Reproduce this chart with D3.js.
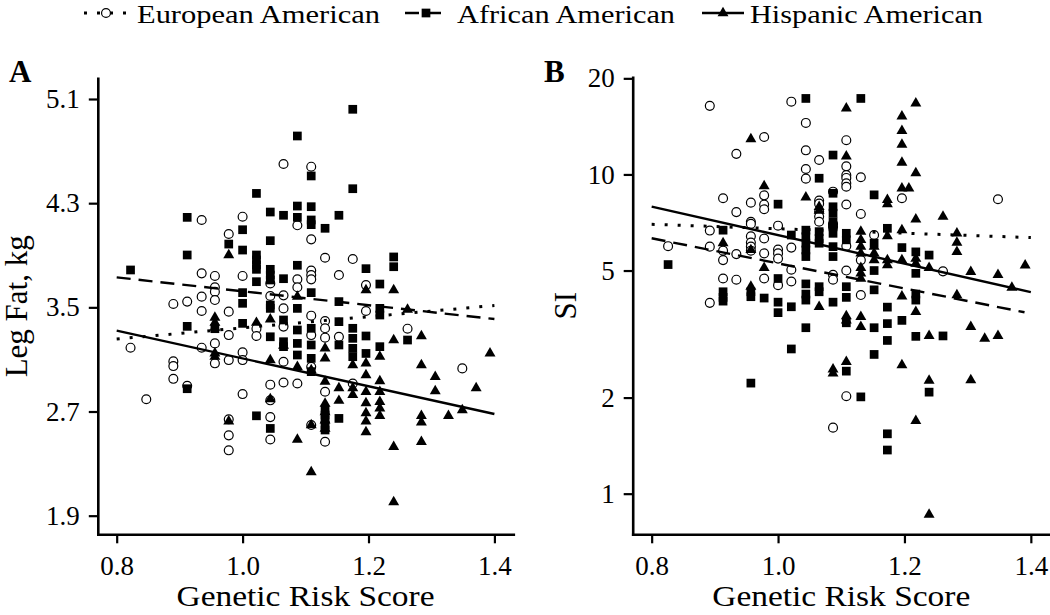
<!DOCTYPE html>
<html><head><meta charset="utf-8">
<script src="https://cdn.jsdelivr.net/npm/d3@7"></script>
<style>
body{margin:0;background:#fff;}
svg{display:block;font-family:"Liberation Serif","Times New Roman",serif;}
</style></head><body>
<svg id="chart" width="1050" height="615"></svg>
<script>
// ---------- data ----------
const grsTicks = [0.8, 1.0, 1.2, 1.4];
const legFatTicks = [1.9, 2.7, 3.5, 4.3, 5.1];
const siTicks = [1, 2, 5, 10, 20];
const groupNames = ["European American", "African American", "Hispanic American"];
const panelLetters = ["A", "B"];
const yTitles = ["Leg Fat, kg", "SI"];
const xTitle = "Genetic Risk Score";

// Panel A: [genetic risk score, leg fat kg]
const legFatEuro = [
[1.065,4.601],[1.109,4.580],[0.935,4.171],[1.000,4.196],[0.978,4.063],[1.087,4.130],[1.109,4.022],[1.131,3.881],
[1.175,3.871],[0.935,3.761],[0.956,3.741],[1.000,3.741],[1.109,3.782],[1.109,3.748],[1.109,3.715],[1.087,3.715],
[1.153,3.748],[0.956,3.654],[0.956,3.620],[0.935,3.582],[0.956,3.556],[1.044,3.684],[1.044,3.587],[1.087,3.654],
[1.065,3.592],[1.196,3.671],[0.890,3.526],[0.912,3.544],[0.935,3.472],[0.978,3.467],[0.978,3.287],[0.978,3.095],
[0.956,3.223],[0.956,3.070],[0.935,3.190],[0.890,3.085],[0.890,3.049],[0.890,2.951],[0.822,3.190],[0.847,2.794],
[0.912,2.898],[1.000,3.154],[1.000,3.095],[1.000,2.834],[1.022,3.336],[1.022,3.280],[1.044,2.906],[1.044,2.786],
[1.044,2.657],[1.044,2.485],[1.065,3.492],[1.065,3.352],[1.065,3.082],[1.065,2.923],[1.087,2.915],[1.109,3.436],
[1.109,3.287],[1.109,3.044],[1.109,2.596],[1.131,3.395],[1.131,3.339],[1.131,3.267],[1.131,2.852],[1.131,2.468],
[1.153,3.274],[1.175,2.915],[1.196,3.472],[1.262,3.336],[1.349,3.031],[0.978,2.640],[0.978,2.517],[0.978,2.402]
];
const legFatAfr = [
[1.175,5.021],[1.087,4.816],[1.109,4.509],[1.175,4.411],[1.022,4.375],[1.087,4.278],[1.109,4.273],[1.044,4.232],
[1.065,4.207],[1.087,4.191],[0.912,4.191],[1.109,4.171],[1.109,4.135],[1.153,4.207],[1.131,4.107],[1.000,4.096],
[1.044,4.012],[0.978,3.986],[1.000,3.940],[0.912,3.902],[1.022,3.902],[1.022,3.864],[1.022,3.826],[1.022,3.792],
[1.044,3.792],[1.044,3.748],[1.044,3.710],[1.087,3.823],[1.196,3.797],[1.240,3.887],[1.240,3.812],[0.822,3.787],
[1.022,3.697],[1.065,3.720],[1.218,3.679],[1.000,3.613],[1.109,3.613],[1.000,3.531],[1.153,3.544],[1.000,3.377],
[1.044,3.518],[1.044,3.492],[1.044,3.274],[1.065,3.403],[1.065,3.236],[1.065,3.198],[1.087,3.492],[1.087,3.326],
[1.087,3.223],[1.087,3.134],[1.109,3.339],[1.109,3.211],[1.109,3.108],[1.109,3.006],[1.153,3.390],[1.153,3.211],
[1.153,2.647],[1.175,3.339],[1.175,3.262],[1.175,3.185],[1.175,3.121],[1.196,3.280],[1.196,3.146],[1.218,3.492],
[1.218,3.441],[1.218,3.198],[1.262,3.249],[0.912,3.354],[0.912,2.875],[0.956,3.336],[1.022,2.667],[1.044,2.570],
[1.131,2.712],[1.131,2.673],[1.131,2.635],[1.131,2.596],[1.131,2.558]
];
const legFatHisp = [
[0.978,3.902],[1.087,3.582],[1.196,3.633],[1.240,3.633],[0.956,3.421],[0.956,3.382],[0.956,3.344],[1.022,3.382],
[1.044,3.408],[1.262,3.482],[0.956,3.146],[0.956,3.121],[1.044,3.095],[1.065,3.206],[1.087,3.044],[1.109,3.019],
[1.131,3.185],[1.131,3.108],[1.131,2.929],[1.153,2.880],[1.153,2.783],[1.175,3.057],[1.175,2.880],[1.175,2.829],
[1.196,3.070],[1.196,2.980],[1.196,2.852],[1.196,2.765],[1.196,2.688],[1.196,2.624],[1.196,2.542],[1.218,3.121],
[1.218,2.934],[1.218,2.852],[1.218,2.775],[1.218,2.724],[1.218,2.667],[1.240,3.249],[1.240,2.429],[1.240,2.005],
[1.284,3.280],[1.284,3.057],[1.284,2.667],[1.284,2.616],[1.284,2.467],[1.306,2.967],[1.306,2.857],[1.327,2.667],
[1.349,2.711],[1.371,2.880],[1.393,3.146],[1.087,2.485],[1.109,2.234],[1.109,2.596],[1.044,2.795],[0.978,2.624],
[1.131,2.760],[1.131,2.696],[1.131,2.632],[1.131,2.568]
];
// fitted lines panel A: [grs, leg fat] at the ends
const legFatFitEuro = [[0.8,3.257],[1.4,3.514]];
const legFatFitAfr  = [[0.8,3.730],[1.4,3.410]];
const legFatFitHisp = [[0.8,3.321],[1.4,2.681]];

// Panel B: [genetic risk score, SI]
const siEuro = [
[0.892,16.4],[1.021,16.9],[1.044,14.5],[0.978,13.1],[0.934,11.6],[1.044,11.9],[1.065,11.1],[1.108,12.8],
[1.044,10.4],[1.044,9.70],[1.108,10.6],[1.108,9.95],[1.108,9.75],[1.108,9.38],[1.108,9.15],[1.131,9.8],
[1.087,8.83],[0.913,8.42],[0.957,8.16],[0.978,8.6],[0.978,8.05],[0.978,7.78],[1.065,8.28],[1.065,8.1],
[1.065,7.65],[1.065,7.38],[1.065,7.11],[1.087,7.0],[1.087,6.85],[1.108,8.05],[1.131,7.52],[1.196,8.42],
[1.348,8.36],[0.934,7.62],[0.892,6.67],[0.892,5.94],[0.913,5.77],[0.913,5.39],[0.934,5.63],[0.957,7.11],
[0.957,7.0],[0.957,6.4],[0.957,6.12],[0.957,5.94],[0.957,5.77],[0.978,6.3],[0.978,5.66],[1.000,6.91],
[1.000,5.82],[1.000,5.66],[1.000,5.45],[1.021,5.9],[1.021,5.03],[1.021,4.62],[0.978,4.72],[0.913,4.72],
[0.934,4.68],[1.000,4.5],[1.108,5.97],[1.108,5.0],[1.152,6.46],[1.131,5.39],[1.087,4.85],[1.087,4.68],
[1.131,4.19],[1.261,4.97],[0.826,5.96],[0.892,3.96],[1.108,2.02],[1.087,1.61]
];
const siAfr = [
[1.044,17.3],[1.131,17.3],[1.087,11.5],[1.065,9.73],[1.000,8.07],[1.152,8.63],[1.087,8.73],[1.087,7.92],
[1.087,7.56],[1.087,7.11],[1.087,6.85],[1.087,6.54],[0.913,6.69],[1.021,6.46],[1.044,6.69],[1.044,6.38],
[1.044,6.09],[1.044,5.8],[1.044,5.53],[1.065,6.62],[1.065,6.3],[1.065,6.09],[1.087,5.94],[1.087,5.53],
[1.108,6.54],[1.108,6.24],[1.173,6.78],[1.196,5.9],[1.218,5.72],[1.239,5.59],[1.152,6.09],[1.152,5.0],
[1.218,4.9],[0.826,5.22],[1.000,4.72],[1.044,4.54],[1.044,4.22],[1.065,4.45],[1.065,4.29],[1.108,4.45],
[1.108,4.12],[1.152,4.35],[1.218,4.22],[0.913,4.29],[0.913,4.12],[0.913,4.01],[0.957,4.29],[0.957,4.14],
[0.978,4.1],[1.000,3.98],[1.087,3.98],[1.000,3.69],[1.021,3.85],[1.044,4.04],[1.044,3.31],[1.021,2.84],
[0.957,2.22],[1.108,3.43],[1.108,2.42],[1.131,2.01],[1.152,3.31],[1.152,2.73],[1.173,3.84],[1.173,3.41],
[1.173,3.02],[1.173,1.54],[1.173,1.37],[1.196,3.49],[1.218,4.04],[1.218,3.11],[1.239,2.08],[1.261,3.12]
];
const siHisp = [
[1.108,16.1],[1.218,16.7],[1.196,15.2],[1.196,13.7],[1.196,12.4],[1.196,10.9],[1.218,10.1],[1.196,9.05],
[1.207,9.05],[0.957,12.9],[1.108,11.4],[0.978,9.2],[1.044,8.48],[1.065,7.92],[1.065,7.7],[1.173,8.32],
[1.173,8.07],[1.218,7.23],[1.261,7.38],[1.196,6.69],[1.173,6.41],[1.131,6.62],[1.131,6.24],[1.131,5.94],
[1.131,5.66],[1.131,5.1],[1.131,4.9],[1.131,4.72],[1.152,5.94],[1.152,5.66],[1.152,5.39],[1.173,5.39],
[1.173,5.2],[1.196,5.39],[1.218,5.45],[1.218,5.26],[1.239,5.1],[1.283,6.54],[1.283,6.12],[1.283,5.72],
[1.305,4.95],[1.348,4.85],[1.370,4.42],[1.391,5.19],[0.913,6.09],[0.957,5.8],[0.978,5.1],[0.957,4.45],
[1.196,4.15],[1.283,4.19],[1.065,3.85],[1.108,3.6],[1.108,3.49],[1.131,3.58],[1.131,3.33],[1.218,3.71],
[1.239,3.12],[1.305,3.33],[1.327,3.06],[1.348,3.12],[1.087,2.45],[1.087,2.38],[1.108,2.59],[1.196,2.53],
[1.239,2.26],[1.305,2.27],[1.218,1.69],[1.239,0.86]
];
// fitted lines panel B (log scale)
const siFitEuro = [[0.8,6.98],[1.4,6.34]];
const siFitAfr  = [[0.8,6.31],[1.39,3.70]];
const siFitHisp = [[0.8,7.93],[1.4,4.28]];

// ---------- drawing ----------
const svg = d3.select("#chart");
const FONT_TICK = 27;
const lineStyles = [
  {dash: "3,10", width: 3},     // European: dotted
  {dash: "14,8", width: 2.4},   // African: dashed
  {dash: null, width: 2.4}      // Hispanic: solid
];
const symbolTypes = [d3.symbolCircle, d3.symbolSquare, d3.symbolTriangle];
const symbolSizes = [62, 76, 52];

function drawMarker(g, t) {
  const p = g.append("path").attr("d", d3.symbol(symbolTypes[t], symbolSizes[t])());
  if (t === 0) p.attr("fill", "#fff").attr("stroke", "#000").attr("stroke-width", 1.2);
  else p.attr("fill", "#000");
  return p;
}

const panels = [
  {xr: [97.8, 513.3], yr: [534.3, 78.3], ydom: [1.757, 5.259], log: false,
   yticks: legFatTicks, fmt: d3.format(".1f"),
   data: [legFatEuro, legFatAfr, legFatHisp], fits: [legFatFitEuro, legFatFitAfr, legFatFitHisp],
   letterX: 9, titleX: 27},
  {xr: [632.7, 1049.8], yr: [534.3, 77.3], ydom: [0.746, 20.15], log: true,
   yticks: siTicks, fmt: d3.format("d"),
   data: [siEuro, siAfr, siHisp], fits: [siFitEuro, siFitAfr, siFitHisp],
   letterX: 544, titleX: 576}
];

panels.forEach((p, i) => {
  const x = d3.scaleLinear().domain([0.77, 1.43]).range(p.xr);
  const y = (p.log ? d3.scaleLog() : d3.scaleLinear()).domain(p.ydom).range(p.yr);
  const g = svg.append("g");

  // points
  p.data.forEach((series, t) => {
    series.forEach(d => {
      const m = g.append("g").attr("transform", `translate(${x(d[0])},${y(d[1])})`);
      drawMarker(m, t);
    });
  });
  // fitted lines
  const line = d3.line().x(d => x(d[0])).y(d => y(d[1]));
  p.fits.forEach((f, t) => {
    g.append("path").attr("d", line(f)).attr("fill", "none").attr("stroke", "#000")
      .attr("stroke-width", lineStyles[t].width)
      .attr("stroke-dasharray", lineStyles[t].dash);
  });

  // axes
  const yAxis = d3.axisLeft(y).tickValues(p.yticks).tickFormat(p.fmt).tickSize(9).tickSizeOuter(0).tickPadding(9);
  const xAxis = d3.axisBottom(x).tickValues(grsTicks).tickFormat(d3.format(".1f")).tickSize(9).tickSizeOuter(0).tickPadding(13);
  const ya = g.append("g").attr("transform", `translate(${p.xr[0]},0)`).call(yAxis);
  const xa = g.append("g").attr("transform", `translate(0,${p.yr[0]})`).call(xAxis);
  [ya, xa].forEach(a => {
    a.attr("font-family", null).attr("font-size", FONT_TICK);
    a.select(".domain").attr("stroke-width", 2.6).attr("stroke-linecap", "square");
    a.selectAll(".tick line").attr("stroke-width", 2.2);
    a.selectAll(".tick text").attr("fill", "#000");
  });

  // axis titles
  const cx = (p.xr[0] + p.xr[1]) / 2;
  svg.append("text").attr("x", cx).attr("y", 606).attr("text-anchor", "middle")
    .attr("font-size", 30).attr("textLength", 258).attr("lengthAdjust", "spacingAndGlyphs")
    .text(xTitle);
  const cy = (p.yr[0] + p.yr[1]) / 2;
  svg.append("text").attr("transform", `translate(${p.titleX},${cy}) rotate(-90)`)
    .attr("text-anchor", "middle").attr("font-size", 31).text(yTitles[i]);
  // panel letter
  svg.append("text").attr("x", p.letterX).attr("y", 82).attr("font-size", 31)
    .attr("font-weight", "bold").text(panelLetters[i]);
});

// legend
const legendKeys = [[84, 128], [405, 447], [702, 744]];
const legendTextX = [137, 457, 750];
const legendTextLen = [243, 218, 233];
const legendY = 13;
groupNames.forEach((name, t) => {
  const k = legendKeys[t];
  svg.append("line").attr("x1", k[0]).attr("x2", k[1]).attr("y1", legendY).attr("y2", legendY)
    .attr("stroke", "#000").attr("stroke-width", lineStyles[t].width)
    .attr("stroke-dasharray", lineStyles[t].dash);
  const m = svg.append("g").attr("transform", `translate(${(k[0] + k[1]) / 2},${legendY})`);
  drawMarker(m, t);
  svg.append("text").attr("x", legendTextX[t]).attr("y", 23).attr("font-size", 25.5)
    .attr("textLength", legendTextLen[t]).attr("lengthAdjust", "spacingAndGlyphs").text(name);
});
</script>
</body></html>
